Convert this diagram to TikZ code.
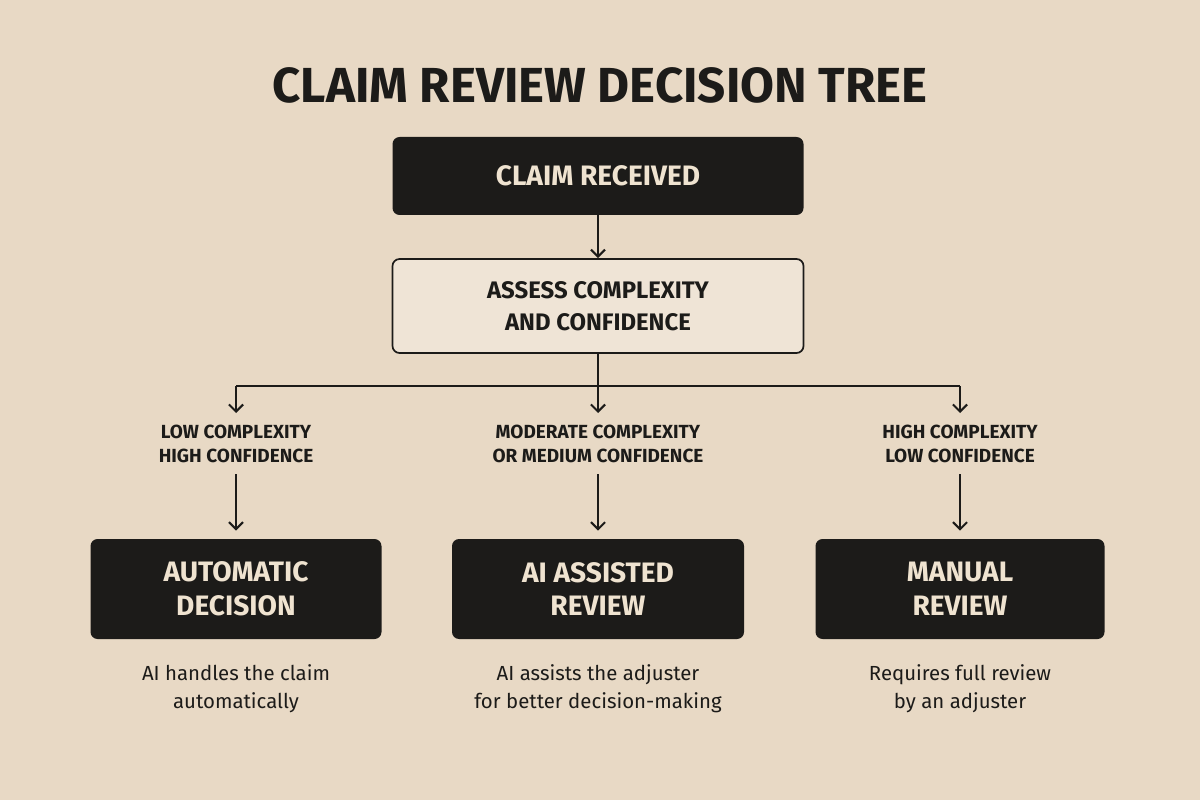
\documentclass[tikz,border=0pt]{standalone}
\usepackage{fontspec}
\setmainfont{Fira Sans}
\usetikzlibrary{arrows.meta}
\definecolor{bg}{HTML}{E8D9C5}
\definecolor{dark}{HTML}{1C1B19}
\definecolor{cream}{HTML}{EFE3D0}
\begin{document}
\begin{tikzpicture}[x=0.025cm,y=-0.025cm,
  dbox/.style={fill=dark,rounded corners=5pt,text=cream,font=\fontsize{20}{24}\selectfont\bfseries,align=center,inner sep=0},
  lbox/.style={draw=dark,line width=1.2pt,fill=bg!70!white,rounded corners=5pt,text=dark,font=\fontsize{17}{23}\selectfont\bfseries,align=center,inner sep=0},
  lab/.style={text=dark,font=\fontsize{13.5}{17}\selectfont\bfseries,align=center},
  desc/.style={text=dark,font=\fontsize{14.5}{20}\selectfont,align=center},
  arr/.style={-{Straight Barb[length=5pt,width=10pt]},line width=1.5pt,draw=dark}]
\fill[bg] (0,0) rectangle (1200,800);
\useasboundingbox (0,0) rectangle (1200,800);
\node[text=dark,font=\fontsize{35}{40}\selectfont\bfseries] (title) at (600,85) {CLAIM REVIEW DECISION TREE};
\node[dbox,minimum width=411*0.025cm,minimum height=78*0.025cm] (rec) at (598,176) {CLAIM RECEIVED};
\node[lbox,minimum width=411*0.025cm,minimum height=94*0.025cm] (ass) at (598,306) {ASSESS COMPLEXITY\\AND CONFIDENCE};
\draw[arr] (rec) -- (ass);
\coordinate (j) at (598,386);
\coordinate (jl) at (236,386);
\coordinate (jr) at (960,386);
\coordinate (tl) at (236,413);
\coordinate (tm) at (598,413);
\coordinate (tr) at (960,413);
\draw[line width=1.5pt,dark] (ass.south) -- (j) (jl) -- (jr);
\draw[arr] (jl) -- (tl);
\draw[arr] (j) -- (tm);
\draw[arr] (jr) -- (tr);
\node[lab] (l1) at (236,444) {LOW COMPLEXITY\\HIGH CONFIDENCE};
\node[lab] (l2) at (598,444) {MODERATE COMPLEXITY\\OR MEDIUM CONFIDENCE};
\node[lab] (l3) at (960,444) {HIGH COMPLEXITY\\LOW CONFIDENCE};
\node[dbox,minimum width=291*0.025cm,minimum height=100*0.025cm] (b1) at (236,589) {AUTOMATIC\\DECISION};
\node[dbox,minimum width=292*0.025cm,minimum height=100*0.025cm] (b2) at (598,589) {AI ASSISTED\\REVIEW};
\node[dbox,minimum width=289*0.025cm,minimum height=100*0.025cm] (b3) at (960,589) {MANUAL\\REVIEW};
\coordinate (s1) at (236,474); \coordinate (s2) at (598,474); \coordinate (s3) at (960,474);
\draw[arr] (s1) -- ([yshift=0.2cm]b1.north);
\draw[arr] (s2) -- ([yshift=0.2cm]b2.north);
\draw[arr] (s3) -- ([yshift=0.2cm]b3.north);
\node[desc] (d1) at (236,689) {AI handles the claim\\automatically};
\node[desc] (d2) at (598,689) {AI assists the adjuster\\for better decision-making};
\node[desc] (d3) at (960,689) {Requires full review\\by an adjuster};
\end{tikzpicture}
\end{document}
